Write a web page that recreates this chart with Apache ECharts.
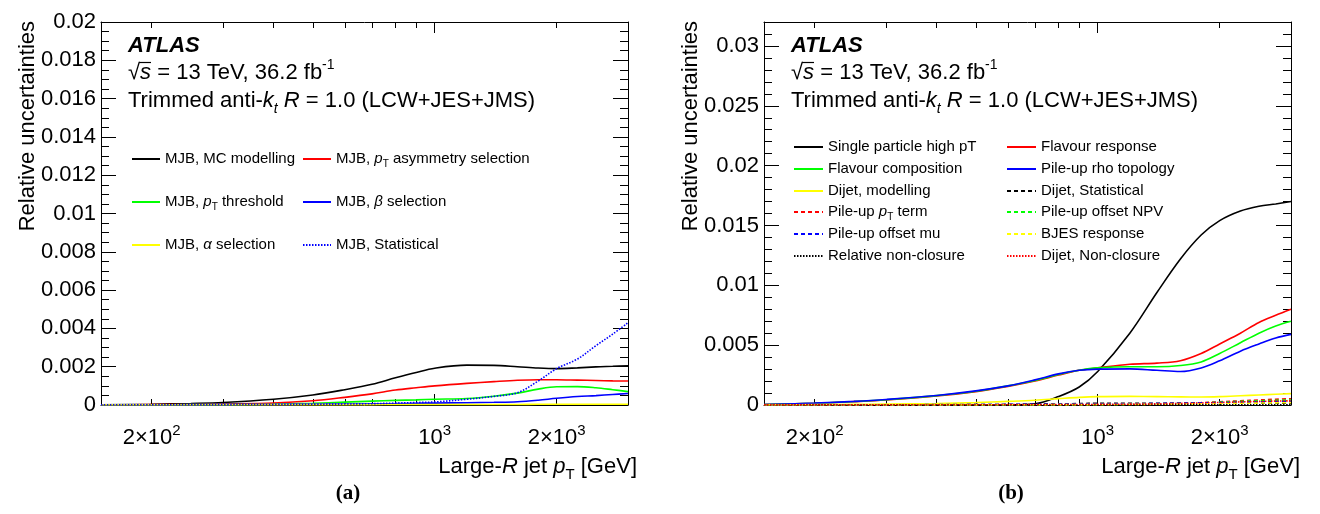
<!DOCTYPE html>
<html>
<head>
<meta charset="utf-8">
<title>Large-R jet pT uncertainties</title>
<script src="https://cdn.jsdelivr.net/npm/echarts@6/dist/echarts.min.js"></script>
<style>
  html, body { margin: 0; padding: 0; background: #fff; }
  #chart { width: 1320px; height: 514px; }
</style>
</head>
<body>
<div id="chart"></div>
<script>
// jet pT (GeV) where every curve is sampled
const ptPoints = [150, 200, 250, 300, 400, 500, 600, 700, 800, 900, 1000, 1200, 1400, 1600, 1800, 2000, 2250, 2500, 2750, 3000]

// (a) MJB components
const mjbMcModelling = [0.00001, 0.00004, 0.00008, 0.00013, 0.0003, 0.00052, 0.0008, 0.00108, 0.00142, 0.0017, 0.00192, 0.00208, 0.00207, 0.002, 0.00193, 0.0019, 0.00194, 0.00199, 0.00202, 0.00205]
const mjbPtAsymmetry = [0.00001, 0.00002, 0.00003, 0.00005, 0.0001, 0.00022, 0.0004, 0.00058, 0.00078, 0.0009, 0.001, 0.00113, 0.00122, 0.00129, 0.00132, 0.00132, 0.0013, 0.00128, 0.00126, 0.00125]
const mjbPtThreshold = [0.00001, 0.00001, 0.00002, 0.00002, 0.00004, 0.00009, 0.00015, 0.0002, 0.00024, 0.00027, 0.0003, 0.00034, 0.00046, 0.00062, 0.00083, 0.00095, 0.00096, 0.0009, 0.0008, 0.0007]
const mjbBeta = [0.00001, 0.00001, 0.00002, 0.00002, 0.00003, 0.00004, 0.00005, 0.00006, 0.00007, 0.00009, 0.0001, 0.00012, 0.00014, 0.00017, 0.00025, 0.00035, 0.00044, 0.00049, 0.00055, 0.0006]
const mjbAlpha = [0.00001, 0.00001, 0.00001, 0.00001, 0.00002, 0.00002, 0.00002, 0.00002, 0.00003, 0.00003, 0.00003, 0.00003, 0.00003, 0.00003, 0.00004, 0.00004, 0.00004, 0.00004, 0.00004, 0.00004]
const mjbStatistical = [0.00001, 0.00001, 0.00001, 0.00002, 0.00003, 0.00004, 0.00005, 0.00007, 0.0001, 0.00013, 0.00016, 0.0003, 0.00045, 0.00064, 0.00125, 0.0019, 0.0024, 0.0031, 0.0037, 0.0043]

// (b) in-situ / dijet / pile-up components
const singleParticle = [0, 0, 0, 0, 0, 0, 0.00001, 0.0001, 0.0007, 0.0015, 0.0028, 0.006, 0.0094, 0.0122, 0.0142, 0.0154, 0.0162, 0.0166, 0.0168, 0.017]
const flavourResponse = [0.00003, 0.00014, 0.00028, 0.00042, 0.00075, 0.00112, 0.00155, 0.002, 0.0025, 0.0029, 0.0031, 0.0034, 0.0035, 0.0037, 0.0043, 0.0051, 0.006, 0.0069, 0.0075, 0.008]
const flavourComposition = [0.00003, 0.00015, 0.00029, 0.00044, 0.00078, 0.00115, 0.0016, 0.00205, 0.00255, 0.0029, 0.0031, 0.0032, 0.0032, 0.0033, 0.0036, 0.0043, 0.0052, 0.006, 0.0066, 0.007]
const pileupRho = [0.00004, 0.00016, 0.0003, 0.00046, 0.0008, 0.00118, 0.0016, 0.0021, 0.0026, 0.0029, 0.003, 0.00302, 0.0029, 0.0028, 0.0031, 0.0037, 0.0045, 0.0051, 0.0056, 0.0059]
const dijetModelling = [0.00001, 0.00003, 0.00005, 0.00007, 0.00012, 0.0002, 0.0003, 0.0004, 0.00053, 0.00064, 0.0007, 0.00072, 0.0007, 0.00068, 0.00067, 0.0007, 0.00077, 0.00084, 0.0009, 0.00095]
const dijetStatistical = [0.00001, 0.00001, 0.00001, 0.00002, 0.00002, 0.00003, 0.00004, 0.00006, 0.00009, 0.00012, 0.00014, 0.00015, 0.00015, 0.00015, 0.00015, 0.00015, 0.00015, 0.00015, 0.00015, 0.00015]
const pileupPtTerm = [0, 0, 0, 0, 0, 0, 0, 0.00001, 0.00002, 0.00003, 0.00004, 0.00007, 0.0001, 0.00014, 0.0002, 0.00027, 0.00035, 0.00042, 0.00048, 0.00052]
const pileupNpv = [0, 0, 0, 0, 0, 0, 0, 0.00001, 0.00002, 0.00002, 0.00003, 0.00006, 0.00009, 0.00013, 0.00018, 0.00024, 0.0003, 0.00035, 0.00039, 0.00042]
const pileupMu = [0.00001, 0.00001, 0.00001, 0.00002, 0.00003, 0.00004, 0.00005, 0.00006, 0.00007, 0.00008, 0.00008, 0.0001, 0.00012, 0.00015, 0.00018, 0.0002, 0.00023, 0.00026, 0.00028, 0.0003]
const bjesResponse = [0, 0, 0, 0, 0.00001, 0.00001, 0.00002, 0.00002, 0.00003, 0.00003, 0.00004, 0.00005, 0.00006, 0.00008, 0.0001, 0.00012, 0.00014, 0.00016, 0.00018, 0.0002]
const relativeNonClosure = [0.00002, 0.00002, 0.00002, 0.00002, 0.00002, 0.00002, 0.00002, 0.00002, 0.00002, 0.00002, 0.00002, 0.00002, 0.00002, 0.00002, 0.00002, 0.00002, 0.00002, 0.00002, 0.00002, 0.00002]
const dijetNonClosure = [0.00001, 0.00001, 0.00001, 0.00001, 0.00002, 0.00002, 0.00003, 0.00003, 0.00004, 0.00004, 0.00005, 0.00007, 0.0001, 0.00013, 0.00017, 0.00021, 0.00026, 0.0003, 0.00033, 0.00035]

// axis ticks
const PT_MIN = 150
const PT_MAX = 3000
const xMinorTicks = [200, 300, 400, 500, 600, 700, 800, 900, 2000, 3000]
const xMajorTicks = [1000]
const xLabelValues = [200, 1000, 2000]
const xLabelTexts = ['2×10{sup|2}', '10{sup|3}', '2×10{sup|3}']
const yMajorA = [0, 0.002, 0.004, 0.006, 0.008, 0.01, 0.012, 0.014, 0.016, 0.018, 0.02]
const yMajorB = [0, 0.005, 0.01, 0.015, 0.02, 0.025, 0.03]

const FONT = '"Liberation Sans", Arial, Helvetica, sans-serif'
const BLACK = '#000'
const SOLID = 'solid'
const DASHED = [4, 3]
const DOTTED = [1.5, 1.5]
const CLEAR = 'rgba(0,0,0,0)'

function minorsOf(step, max) {
  const out = []
  for (let v = step; v < max + 1e-9; v += step) out.push(+v.toFixed(5))
  return out
}

function xAxesFor(grid) {
  const line = { color: BLACK, width: 1 }
  const base = {
    gridIndex: grid, type: 'value', min: Math.log10(PT_MIN), max: Math.log10(PT_MAX),
    splitLine: { show: false }, axisLine: { show: false, onZero: false },
    axisTick: { show: false }, axisLabel: { show: false }
  }
  return [
    // data axis (log)
    Object.assign({}, base, {
      type: 'log', logBase: 10, min: PT_MIN, max: PT_MAX,
      axisLine: { show: true, onZero: false, lineStyle: line }
    }),
    Object.assign({}, base, {
      position: 'bottom',
      axisTick: { show: true, inside: true, length: 6, customValues: xMinorTicks.map(Math.log10), lineStyle: line },
      axisLabel: {
        show: true, customValues: xLabelValues.map(Math.log10), margin: 18,
        fontSize: 22, fontFamily: FONT, color: BLACK, lineHeight: 30,
        formatter: v => xLabelTexts[xLabelValues.findIndex(t => Math.abs(Math.log10(t) - v) < 1e-6)] || '',
        rich: { sup: { fontSize: 15, fontFamily: FONT, color: BLACK, verticalAlign: 'top', lineHeight: 30 } }
      }
    }),
    Object.assign({}, base, {
      position: 'bottom',
      axisTick: { show: true, inside: true, length: 11, customValues: xMajorTicks.map(Math.log10), lineStyle: line }
    }),
    Object.assign({}, base, {
      position: 'top', axisLine: { show: true, onZero: false, lineStyle: line },
      axisTick: { show: true, inside: true, length: 6, customValues: xMinorTicks.map(Math.log10), lineStyle: line }
    }),
    Object.assign({}, base, {
      position: 'top',
      axisTick: { show: true, inside: true, length: 11, customValues: xMajorTicks.map(Math.log10), lineStyle: line }
    })
  ]
}

function yAxesFor(grid, yMax, majors, minors) {
  const line = { color: BLACK, width: 1 }
  const base = {
    type: 'value', gridIndex: grid, min: 0, max: yMax,
    splitLine: { show: false }, axisLabel: { show: false },
    axisLine: { show: false, onZero: false }
  }
  const ticks = (vals, len) => ({ show: true, inside: true, length: len, customValues: vals, lineStyle: line })
  return [
    Object.assign({}, base, {
      position: 'left', axisLine: { show: true, onZero: false, lineStyle: line },
      axisTick: ticks(majors, 15),
      axisLabel: {
        show: true, customValues: majors, margin: 5, fontSize: 22, fontFamily: FONT, color: BLACK,
        formatter: v => v === 0 ? '0' : String(parseFloat(v.toFixed(4)))
      }
    }),
    Object.assign({}, base, { position: 'left', axisTick: ticks(minors, 8) }),
    Object.assign({}, base, {
      position: 'right', axisLine: { show: true, onZero: false, lineStyle: line },
      axisTick: ticks(majors, 15)
    }),
    Object.assign({}, base, { position: 'right', axisTick: ticks(minors, 8) })
  ]
}

function curve(name, values, color, dash, grid) {
  return {
    name: name, type: 'line', xAxisIndex: grid * 5, yAxisIndex: grid * 4,
    data: ptPoints.map((pt, i) => [pt, values[i]]),
    smooth: 0.35, symbol: 'none', showSymbol: false, silent: true,
    lineStyle: { color: color, width: 1.6, type: dash },
    itemStyle: { color: color }
  }
}

const seriesA = [
  curve('MJB, MC modelling', mjbMcModelling, BLACK, SOLID, 0),
  curve('MJB, pT asymmetry selection', mjbPtAsymmetry, '#ff0000', SOLID, 0),
  curve('MJB, pT threshold', mjbPtThreshold, '#00ff00', SOLID, 0),
  curve('MJB, β selection', mjbBeta, '#0000ff', SOLID, 0),
  curve('MJB, α selection', mjbAlpha, '#ffff00', SOLID, 0),
  curve('MJB, Statistical', mjbStatistical, '#0000ff', DOTTED, 0)
]

const seriesB = [
  curve('Single particle high pT', singleParticle, BLACK, SOLID, 1),
  curve('Flavour response', flavourResponse, '#ff0000', SOLID, 1),
  curve('Flavour composition', flavourComposition, '#00ff00', SOLID, 1),
  curve('Pile-up rho topology', pileupRho, '#0000ff', SOLID, 1),
  curve('Dijet, modelling', dijetModelling, '#ffff00', SOLID, 1),
  curve('Dijet, Statistical', dijetStatistical, BLACK, DASHED, 1),
  curve('Pile-up pT term', pileupPtTerm, '#ff0000', DASHED, 1),
  curve('Pile-up offset NPV', pileupNpv, '#00ff00', DASHED, 1),
  curve('Pile-up offset mu', pileupMu, '#0000ff', DASHED, 1),
  curve('BJES response', bjesResponse, '#ffff00', DASHED, 1),
  curve('Relative non-closure', relativeNonClosure, BLACK, DOTTED, 1),
  curve('Dijet, Non-closure', dijetNonClosure, '#ff0000', DOTTED, 1)
]

// legend text with italic / subscript pieces
const legendRich = {
  'MJB, pT asymmetry selection': 'MJB, {i|p}{sub|T} asymmetry selection',
  'MJB, pT threshold': 'MJB, {i|p}{sub|T} threshold',
  'MJB, β selection': 'MJB, {i|β} selection',
  'MJB, α selection': 'MJB, {i|α} selection',
  'Pile-up pT term': 'Pile-up {i|p}{sub|T} term'
}

function legendsFor(series, cols, rows, iconWidth) {
  return series.map((s, k) => ({
    data: [s.name],
    left: cols[k % 2], top: rows[Math.floor(k / 2)] - 10.5,
    padding: 0, itemGap: 0, itemWidth: iconWidth, itemHeight: 10,
    selectedMode: false,
    // hide the marker dot, keep only the line sample
    itemStyle: { color: CLEAR, borderColor: CLEAR, borderWidth: 0 },
    formatter: n => legendRich[n] || n,
    textStyle: {
      fontSize: 15, fontFamily: FONT, color: BLACK, lineHeight: 21,
      rich: {
        i: { fontSize: 15, fontFamily: FONT, fontStyle: 'italic', color: BLACK, lineHeight: 21 },
        sub: { fontSize: 10, fontFamily: FONT, color: BLACK, verticalAlign: 'bottom', lineHeight: 21 }
      }
    }
  }))
}

function labelsFor(dx, panel) {
  const font = '22px ' + FONT
  const it = 'italic 22px ' + FONT
  return [
    { type: 'text', x: 128 + dx, y: 46, style: { text: 'ATLAS', font: 'italic bold 22px ' + FONT, fill: BLACK, verticalAlign: 'middle' } },
    { type: 'text', x: 128 + dx, y: 73, style: {
      text: '√{i|s} = 13 TeV, 36.2 fb{sup|-1}', font: font, fill: BLACK, verticalAlign: 'middle', lineHeight: 30,
      rich: { i: { font: it }, sup: { font: '14px ' + FONT, verticalAlign: 'top' } } } },
    { type: 'line', shape: { x1: 139 + dx, y1: 62.5, x2: 151 + dx, y2: 62.5 }, style: { stroke: BLACK, lineWidth: 1.2 } },
    { type: 'text', x: 128 + dx, y: 101, style: {
      text: 'Trimmed anti-{i|k}{sub|t} {i|R} = 1.0 (LCW+JES+JMS)', font: font, fill: BLACK, verticalAlign: 'middle', lineHeight: 30,
      rich: { i: { font: it }, sub: { font: 'italic 14px ' + FONT, verticalAlign: 'bottom' } } } },
    { type: 'text', x: 28 + dx, y: 21, rotation: Math.PI / 2, style: {
      text: 'Relative uncertainties', font: font, fill: BLACK, align: 'right', verticalAlign: 'middle' } },
    { type: 'text', x: 637 + dx, y: 467, style: {
      text: 'Large-{i|R} jet {i|p}{sub|T} [GeV]', font: font, fill: BLACK, align: 'right', verticalAlign: 'middle', lineHeight: 30,
      rich: { i: { font: it }, sub: { font: '15px ' + FONT, verticalAlign: 'bottom' } } } },
    { type: 'text', x: 348 + dx, y: 494, style: {
      text: panel, font: 'bold 21px "Liberation Serif", "Times New Roman", serif', fill: BLACK, align: 'center', verticalAlign: 'middle' } }
  ]
}

const chart = echarts.init(document.getElementById('chart'), null, { renderer: 'canvas' })
chart.setOption({
  animation: false,
  backgroundColor: '#fff',
  textStyle: { fontFamily: FONT },
  grid: [
    { left: 101, top: 22, width: 527, height: 383, outerBoundsMode: 'none' },
    { left: 764, top: 22, width: 527, height: 383, outerBoundsMode: 'none' }
  ],
  xAxis: xAxesFor(0).concat(xAxesFor(1)),
  yAxis: yAxesFor(0, 0.02, yMajorA, minorsOf(0.0005, 0.02).filter(v => !yMajorA.some(m => Math.abs(m - v) < 1e-9)))
    .concat(yAxesFor(1, 0.032, yMajorB, minorsOf(0.001, 0.032).filter(v => !yMajorB.some(m => Math.abs(m - v) < 1e-9)))),
  legend: legendsFor(seriesA, [131, 302], [159, 202, 245], 28)
    .concat(legendsFor(seriesB, [793, 1006], [147, 169, 191, 212, 234, 256], 29)),
  graphic: labelsFor(0, '(a)').concat(labelsFor(663, '(b)')),
  series: seriesA.concat(seriesB)
})
</script>
</body>
</html>
